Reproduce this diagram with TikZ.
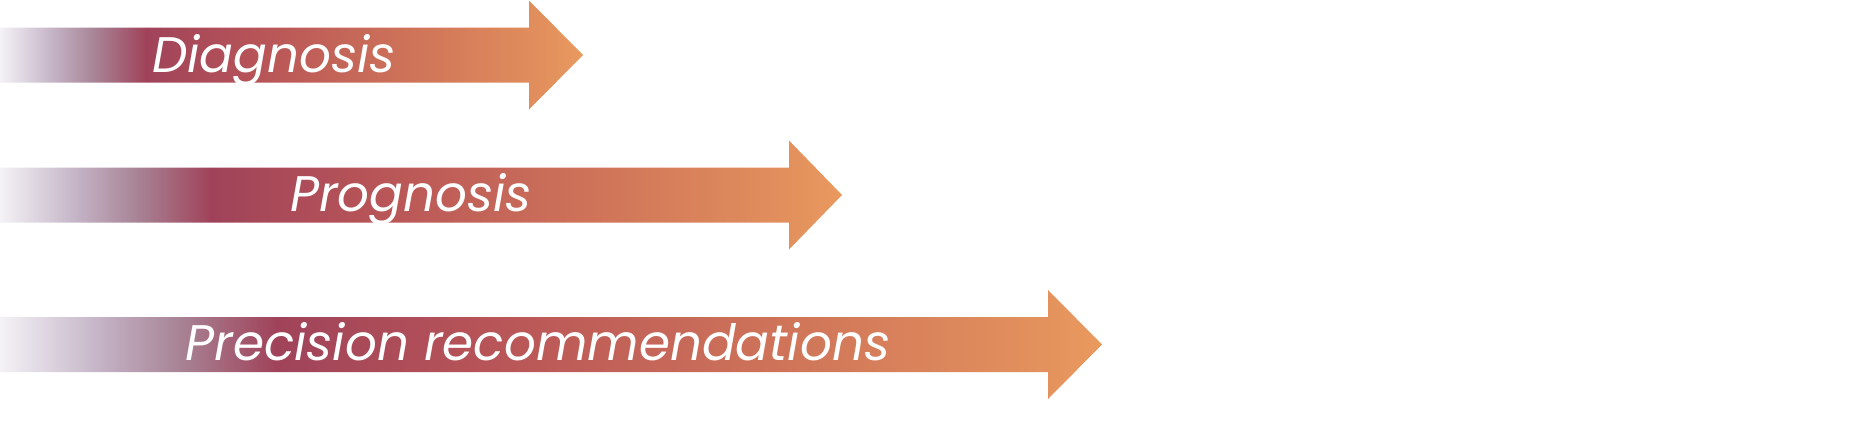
\documentclass[tikz,border=0pt]{standalone}
\usepackage{fontspec}
\setmainfont{Poppins}
\usepackage{tikz}
\usetikzlibrary{positioning,calc}
\definecolor{fadewhite}{HTML}{F4F2F6}
\definecolor{lilac}{HTML}{C4B4C6}
\definecolor{mauve}{HTML}{A88597}
\definecolor{crimson}{HTML}{A0435A}
\definecolor{brick}{HTML}{B85558}
\definecolor{clay}{HTML}{CF7459}
\definecolor{peach}{HTML}{E28F5D}
\definecolor{tiporange}{HTML}{E99A5E}
\pgfdeclarehorizontalshading{bandshade}{100bp}{color(0bp)=(fadewhite); color(25bp)=(fadewhite);
  color(29.5bp)=(lilac); color(33bp)=(mauve); color(37.5bp)=(crimson); color(47.5bp)=(brick);
  color(60.5bp)=(clay); color(71.5bp)=(peach); color(75bp)=(tiporange); color(100bp)=(tiporange)}

\begin{document}
\begin{tikzpicture}[
  x=0.5pt, y=-0.5pt,
  band/.style={shading=bandshade, draw=none},
  lbl/.style={font=\fontsize{25}{30}\selectfont\itshape, text=white, anchor=base, inner sep=0pt}
]
\useasboundingbox (0,0) rectangle (1863,429);
% the three arrows, tail fades out to the left
\foreach \k/\yc/\xb/\xt in {diag/55/529/583, prog/195/789/842, prec/344.5/1048/1102}{
  \path[band] (0,\yc-27.5) -- (\xb,\yc-27.5) -- (\xb,\yc-54.5) -- (\xt,\yc)
    -- (\xb,\yc+54.5) -- (\xb,\yc+27.5) -- (0,\yc+27.5) -- cycle;
  \coordinate (\k-tip) at (\xt,\yc);
}
\node[lbl] (diag) at (274,72) {Diagnosis};
\node[lbl] (prog) at (411,211) {Prognosis};
\node[lbl] (prec) at (538,360) {Precision recommendations};
\end{tikzpicture}
\end{document}
